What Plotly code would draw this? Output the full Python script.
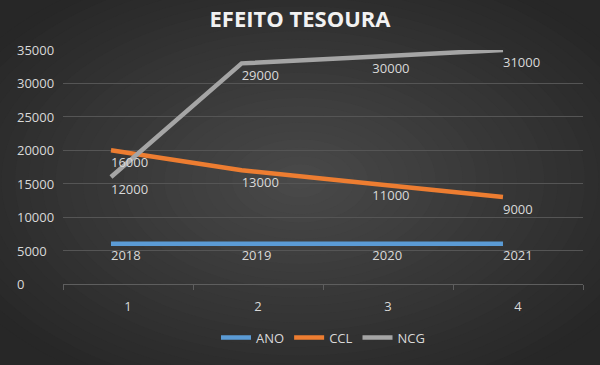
import plotly.graph_objects as go

# ---- data ----
categories = ["1", "2", "3", "4"]
x_index = [1, 2, 3, 4]
series_names = ["ANO", "CCL", "NCG"]
ano_plot = [6018, 6019, 6020, 6021]
ccl_plot = [20000, 17000, 15000, 13000]
ncg_plot = [16000, 33000, 34000, 35000]
ano_labels = ["2018", "2019", "2020", "2021"]
ccl_labels = ["16000", "13000", "11000", "9000"]
ncg_labels = ["12000", "29000", "30000", "31000"]
y_ticks = [0, 5000, 10000, 15000, 20000, 25000, 30000, 35000]
title_text = "EFEITO TESOURA"

colors = ["#5B9BD5", "#ED7D31", "#A5A5A5"]
W, H = 600, 365
L, R, T, B = 63, 17, 50, 79
pw, ph = W - L - R, H - T - B
FONT = "Open Sans"
TXT = "#D9D9D9"
Y_MAX = 35000
label_drop = 7 * Y_MAX / ph  # shift labels a few px lower via overlay axis


def px_x(p):
    return (p - L) / pw


def px_y(p):
    return (H - B - p) / ph


fig = go.Figure()

# invisible trace to establish the category axis
fig.add_trace(go.Scatter(x=categories, y=[None] * 4, xaxis="x", yaxis="y",
                         showlegend=False, hoverinfo="skip", mode="lines"))

for name, vals, c in zip(series_names, [ano_plot, ccl_plot, ncg_plot], colors):
    fig.add_trace(go.Scatter(
        x=x_index, y=vals, name=name, mode="lines",
        line=dict(color=c, width=4.5),
        xaxis="x2", yaxis="y",
    ))

for vals, labs in zip([ano_plot, ccl_plot, ncg_plot],
                      [ano_labels, ccl_labels, ncg_labels]):
    fig.add_trace(go.Scatter(
        x=x_index, y=vals, mode="text", text=labs,
        textposition="bottom right", showlegend=False, hoverinfo="skip",
        textfont=dict(family=FONT, size=13, color=TXT),
        xaxis="x2", yaxis="y2", cliponaxis=False,
    ))

# radial-ish gradient background
shapes = []
n = 28
cx, cy = 300, 182
Rx, Ry = 380, 235
c_out, c_in = 0x27, 0x4A
for i in range(n):
    t = 1 - i / n
    v = round(c_in - t * (c_in - c_out))
    col = "#%02x%02x%02x" % (v, v, v)
    shapes.append(dict(type="circle", xref="paper", yref="paper",
                       x0=px_x(cx - t * Rx), x1=px_x(cx + t * Rx),
                       y0=px_y(cy + t * Ry), y1=px_y(cy - t * Ry),
                       fillcolor=col, line=dict(width=0), layer="below"))

annotations = []
for v in y_ticks:
    annotations.append(dict(x=px_x(15), xref="paper", y=v, yref="y",
                            text=str(v), showarrow=False, xanchor="left",
                            yanchor="middle",
                            font=dict(family=FONT, size=13, color=TXT)))

fig.update_layout(
    width=W, height=H,
    margin=dict(l=L, r=R, t=T, b=B),
    paper_bgcolor="#272727", plot_bgcolor="rgba(0,0,0,0)",
    title=dict(text="<b>" + title_text + "</b>", x=0.5, xanchor="center",
               y=1 - 19 / H, yanchor="middle",
               font=dict(family=FONT, size=22, color="#F2F2F2")),
    xaxis=dict(type="category", categoryorder="array", categoryarray=categories,
               range=[-0.5, 3.5], tickson="boundaries", ticks="outside",
               ticklen=5, tickcolor="#5E5E5E", showgrid=False, zeroline=False,
               showline=True, linecolor="#5E5E5E", linewidth=1,
               tickfont=dict(family=FONT, size=13, color=TXT),
               ticklabelstandoff=10),
    xaxis2=dict(overlaying="x", range=[0.6327, 4.6123], visible=False),
    yaxis=dict(range=[0, Y_MAX], tickvals=y_ticks, showticklabels=False,
               showgrid=True, gridcolor="#555555", gridwidth=1,
               zeroline=False, showline=False),
    yaxis2=dict(overlaying="y", range=[label_drop, Y_MAX + label_drop],
                visible=False),
    legend=dict(orientation="h", x=0.5, xanchor="center", y=px_y(340),
                yanchor="middle", font=dict(family=FONT, size=13, color=TXT),
                bgcolor="rgba(0,0,0,0)", itemwidth=30, traceorder="normal"),
    shapes=shapes, annotations=annotations, showlegend=True,
)

fig.write_html("out.html",
               config={"displayModeBar": False},
               post_script="document.body.style.margin='0';"
                           "document.body.style.padding='0';")
